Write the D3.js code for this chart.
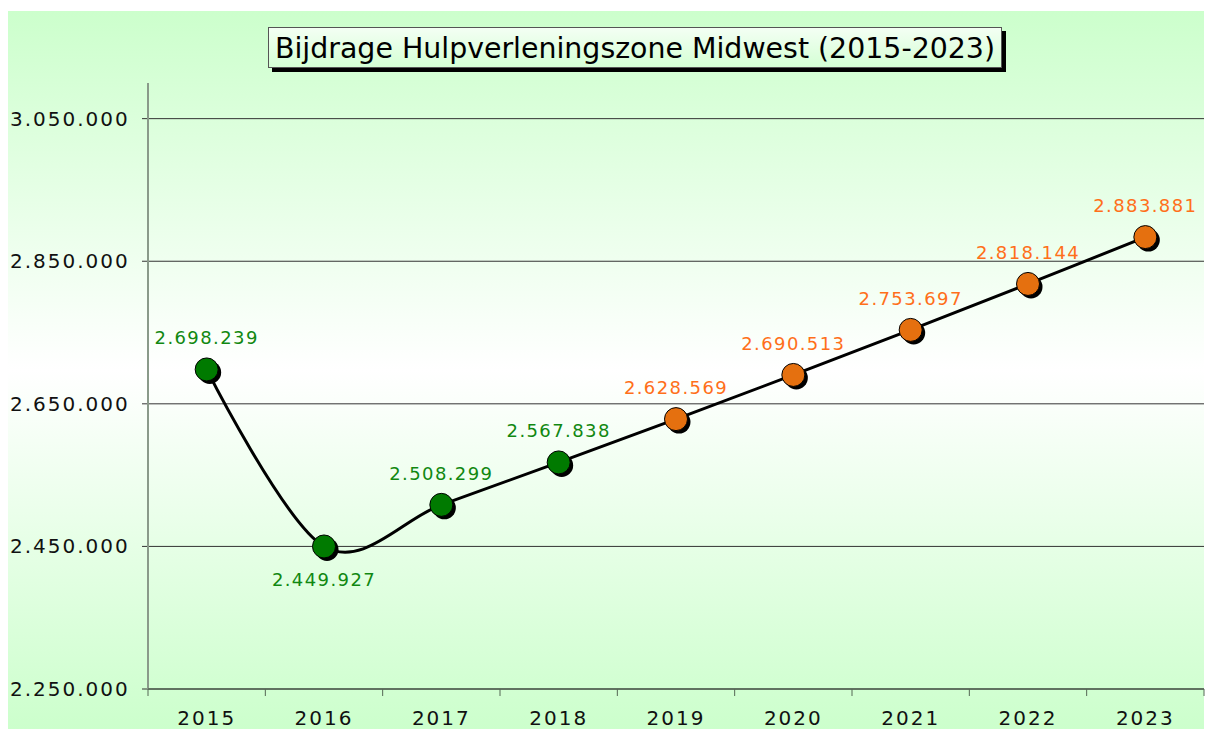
<!DOCTYPE html>
<html>
<head>
<meta charset="utf-8">
<script src="https://cdn.jsdelivr.net/npm/d3@7"></script>
<style>
  html, body { margin: 0; padding: 0; background: #fff; }
  svg { display: block; }
  text { font-family: "DejaVu Sans", sans-serif; }
</style>
</head>
<body>
<div id="chart"></div>
<script>
// Gegevens
const jaren = ["2015", "2016", "2017", "2018", "2019", "2020", "2021", "2022", "2023"];
const bijdragen = [2698239, 2449927, 2508299, 2567838, 2628569, 2690513, 2753697, 2818144, 2883881];
const prognose = [false, false, false, false, true, true, true, true, true];
const yTicks = [2250000, 2450000, 2650000, 2850000, 3050000];
const titel = "Bijdrage Hulpverleningszone Midwest (2015-2023)";

const W = 1206, H = 729;
const plot = { left: 148, right: 1204, top: 83, bottom: 689 };

const nl = d3.formatLocale({ decimal: ",", thousands: ".", grouping: [3], currency: ["€", ""] });
const fmt = nl.format(",d");

const svg = d3.select("#chart").append("svg")
    .attr("width", W)
    .attr("height", H);

const defs = svg.append("defs");
const bg = defs.append("linearGradient").attr("id", "bg")
    .attr("x1", 0).attr("y1", 0).attr("x2", 0).attr("y2", 1);
bg.append("stop").attr("offset", "0%").attr("stop-color", "#ccffcc");
bg.append("stop").attr("offset", "50%").attr("stop-color", "#ffffff");
bg.append("stop").attr("offset", "100%").attr("stop-color", "#ccffcc");

const tb = defs.append("linearGradient").attr("id", "tb")
    .attr("x1", 0).attr("y1", 0).attr("x2", 0).attr("y2", 1);
tb.append("stop").attr("offset", "0%").attr("stop-color", "#f4fff4");
tb.append("stop").attr("offset", "100%").attr("stop-color", "#d4ffd4");

// achtergrond
svg.append("rect")
    .attr("x", 8).attr("y", 11)
    .attr("width", 1196).attr("height", H - 11)
    .attr("fill", "url(#bg)");

// Schalen
const x = d3.scaleBand().domain(jaren).range([plot.left, plot.right]).padding(0);
const y = d3.scaleLinear().domain([2250000, 3100000]).range([plot.bottom, plot.top]);

// rasterlijnen
svg.append("g")
    .selectAll("line")
    .data(yTicks)
  .enter().append("line")
    .attr("x1", plot.left - 6)
    .attr("x2", plot.right)
    .attr("y1", d => y(d))
    .attr("y2", d => y(d))
    .attr("stroke", "#333")
    .attr("stroke-width", 1);

// y-as labels
svg.append("g")
    .selectAll("text")
    .data(yTicks)
  .enter().append("text")
    .attr("x", 10)
    .attr("y", d => y(d) + 7)
    .attr("font-size", 20)
    .attr("letter-spacing", 2)
    .attr("fill", "#111")
    .text(d => fmt(d));

// y-as lijn
svg.append("line")
    .attr("x1", plot.left).attr("x2", plot.left)
    .attr("y1", plot.top).attr("y2", plot.bottom)
    .attr("stroke", "#8a9a8a")
    .attr("stroke-width", 2);

// x-as
const gx = svg.append("g")
    .attr("transform", "translate(0," + plot.bottom + ")");
gx.append("line")
    .attr("x1", plot.left).attr("x2", plot.right)
    .attr("stroke", "#556655").attr("stroke-width", 1.5);
gx.selectAll(".tk")
    .data(jaren.map(j => x(j)).concat([plot.right]))
  .enter().append("line")
    .attr("x1", d => d).attr("x2", d => d)
    .attr("y1", 0).attr("y2", 7)
    .attr("stroke", "#556655");
gx.selectAll(".lbl")
    .data(jaren)
  .enter().append("text")
    .attr("x", d => x(d) + x.bandwidth() / 2)
    .attr("y", 36)
    .attr("text-anchor", "middle")
    .attr("font-size", 20)
    .attr("letter-spacing", 2)
    .attr("fill", "#111")
    .text(d => d);

// lijn
const data = jaren.map((j, i) => ({ jaar: j, waarde: bijdragen[i], prognose: prognose[i] }));
const cx = d => x(d.jaar) + x.bandwidth() / 2;

const line = d3.line()
    .x(cx)
    .y(d => y(d.waarde))
    .curve(d3.curveCardinal.tension(0));

svg.append("path")
    .datum(data)
    .attr("d", line)
    .attr("fill", "none")
    .attr("stroke", "#000")
    .attr("stroke-width", 3);

// markers met schaduw
svg.append("g").selectAll("circle")
    .data(data)
  .enter().append("circle")
    .attr("cx", d => cx(d) + 3)
    .attr("cy", d => y(d.waarde) + 3)
    .attr("r", 11.5)
    .attr("fill", "#000");

svg.append("g").selectAll("circle")
    .data(data)
  .enter().append("circle")
    .attr("cx", cx)
    .attr("cy", d => y(d.waarde))
    .attr("r", 11.5)
    .attr("fill", d => d.prognose ? "#e5700f" : "#007a00")
    .attr("stroke", "#000")
    .attr("stroke-width", 1);

// waardelabels
svg.append("g").selectAll("text")
    .data(data)
  .enter().append("text")
    .attr("x", cx)
    .attr("y", (d, i) => i === 1 ? y(d.waarde) + 40 : y(d.waarde) - 25)
    .attr("text-anchor", "middle")
    .attr("font-size", 18)
    .attr("letter-spacing", 1.4)
    .attr("fill", d => d.prognose ? "#ff6f1a" : "#118811")
    .text(d => fmt(d.waarde));

// titel
const tg = svg.append("g");
tg.append("rect")
    .attr("x", 272).attr("y", 31)
    .attr("width", 734).attr("height", 41)
    .attr("fill", "#000");
tg.append("rect")
    .attr("x", 268.5).attr("y", 27.5)
    .attr("width", 733).attr("height", 40)
    .attr("fill", "url(#tb)")
    .attr("stroke", "#555")
    .attr("stroke-width", 1);
tg.append("text")
    .attr("x", 635)
    .attr("y", 58)
    .attr("text-anchor", "middle")
    .attr("font-size", 28)
    .attr("textLength", 720)
    .attr("lengthAdjust", "spacingAndGlyphs")
    .attr("fill", "#000")
    .text(titel);
</script>
</body>
</html>
